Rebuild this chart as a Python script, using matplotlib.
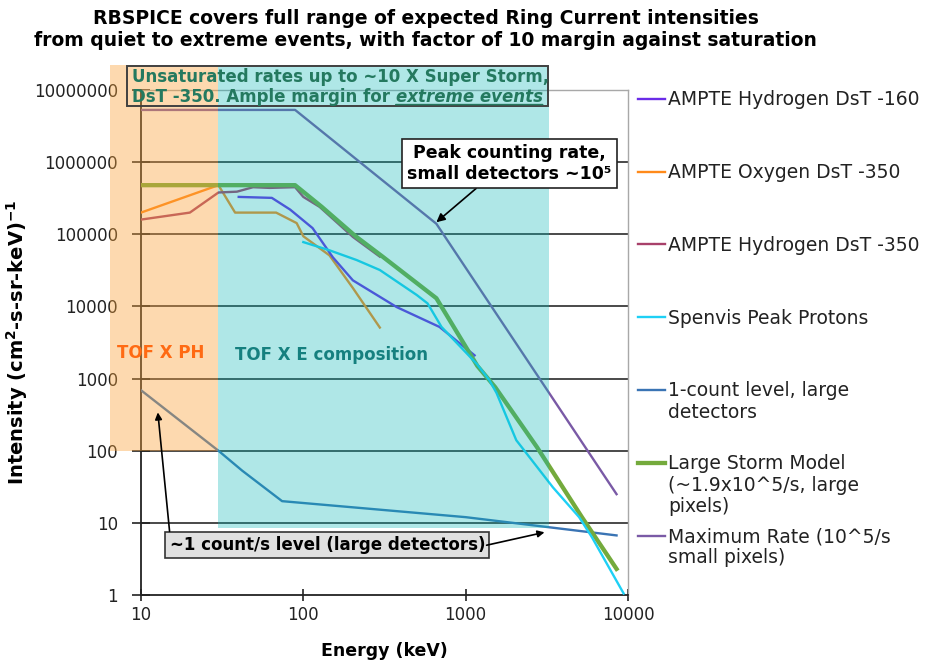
import matplotlib.pyplot as plt
import matplotlib.transforms as mtransforms
from matplotlib.patches import Rectangle

plt.rcParams['font.family'] = ['DejaVu Sans']

# energies (keV) and intensities
e_h160 = [40, 64, 83, 114, 152, 202, 376, 690, 1135]
f_h160 = [3.3e5, 3.2e5, 2.2e5, 1.22e5, 4.8e4, 2.3e4, 9.8e3, 5.2e3, 2.1e3]

e_o350 = [10, 30, 38, 68, 91, 100, 145, 202, 296]
f_o350 = [2.0e5, 4.8e5, 2.0e5, 2.0e5, 1.43e5, 9.4e4, 5.1e4, 1.8e4, 5.1e3]

e_h350 = [10, 20, 30, 39, 49, 62, 89, 100, 126, 202, 296]
f_h350 = [1.6e5, 2.0e5, 3.8e5, 3.9e5, 4.5e5, 4.4e5, 4.5e5, 3.3e5, 2.4e5, 9.2e4, 4.9e4]

e_spenvis = [100, 145, 213, 296, 500, 583, 710, 1170, 1400, 1550, 2050, 3450, 5000, 6000, 9400]
f_spenvis = [7.8e4, 6.0e4, 4.4e4, 3.2e4, 1.44e4, 1.1e4, 5.2e3, 1.6e3, 950, 630, 140, 31, 12, 6.3, 1.05]

e_count = [10, 30, 42, 74, 1000, 8500]
f_count = [690, 100, 53, 20, 12, 6.7]

e_storm = [10, 89, 130, 210, 308, 660, 1180, 1520, 2750, 5200, 8500]
f_storm = [4.8e5, 4.8e5, 2.4e5, 9.4e4, 4.9e4, 1.3e4, 1.5e3, 760, 112, 12, 2.3]

e_max = [10, 89, 660, 8500]
f_max = [5.3e6, 5.3e6, 1.4e5, 25]

names = ['AMPTE Hydrogen DsT -160', 'AMPTE Oxygen DsT -350', 'AMPTE Hydrogen DsT -350',
         'Spenvis Peak Protons', '1-count level, large\ndetectors',
         'Large Storm Model\n(~1.9x10^5/s, large\npixels)', 'Maximum Rate (10^5/s\nsmall pixels)']
energies = [e_h160, e_o350, e_h350, e_spenvis, e_count, e_storm, e_max]
fluxes = [f_h160, f_o350, f_h350, f_spenvis, f_count, f_storm, f_max]
colors = ['#6a2ce8', '#ff8a1a', '#a8406a', '#1ed0f5', '#3a74b4', '#74aa3c', '#7a5aa6']
widths = [1.7, 1.7, 1.7, 1.7, 1.7, 3.1, 1.7]

yticks = [1, 10, 100, 1000, 10000, 100000, 1000000, 10000000]
xticks = [10, 100, 1000, 10000]

fig = plt.figure(figsize=(9.33, 6.64), dpi=100)
rect = [0.1511, 0.1039, 0.522, 0.7605]
ax = fig.add_axes(rect)
ax.set_xscale('log')
ax.set_yscale('log')
ax.set_xlim(10, 10000)
ax.set_ylim(1, 1e7)

for y in yticks[1:-1]:
    ax.axhline(y, color='#2a2a2a', lw=1.2, zorder=1)

order = [4, 6, 1, 2, 0, 5, 3]
for i in order:
    ax.plot(energies[i], fluxes[i], color=colors[i], lw=widths[i], zorder=3)

ax.set_xticks(xticks)
ax.set_xticklabels([str(v) for v in xticks])
ax.set_yticks(yticks)
ax.set_yticklabels([str(v) for v in yticks])
ax.minorticks_off()
ax.tick_params(axis='x', direction='inout', length=9, width=1.2, labelsize=12, colors='#222222')
ax.tick_params(axis='y', direction='inout', length=13, width=1.2, labelsize=12, colors='#222222',
               pad=10)
for s in ['left', 'bottom']:
    ax.spines[s].set_color('#222222')
    ax.spines[s].set_linewidth(1.3)
for s in ['top', 'right']:
    ax.spines[s].set_color('#a8a8a8')
    ax.spines[s].set_linewidth(1.0)

ax.set_xlabel('Energy (keV)', fontsize=12.5, fontweight='bold')
ax.xaxis.set_label_coords(0.5, -0.093)
ax.set_ylabel(r'Intensity (cm$^\mathbf{2}$-s-sr-keV)$^\mathbf{-1}$', fontsize=14, fontweight='bold')
ax.yaxis.set_label_coords(-0.228, 0.5)

# translucent shaded bands on top of the lines
fig.add_artist(Rectangle((6.45, 100), 30 - 6.45, 2.2e7 - 100, transform=ax.transData,
                         facecolor='#faa239', alpha=0.4, edgecolor='none', zorder=5))
fig.add_artist(Rectangle((30, 8.4), 3240 - 30, 2.2e7 - 8.4, transform=ax.transData,
                         facecolor='#08b7b7', alpha=0.32, edgecolor='none', zorder=5))

# top layer for labels
ax2 = fig.add_axes(rect)
ax2.set_xscale('log')
ax2.set_yscale('log')
ax2.set_xlim(10, 10000)
ax2.set_ylim(1, 1e7)
ax2.set_axis_off()
ax2.set_zorder(10)

ax2.add_patch(Rectangle((8.2, 6.0e6), 3200 - 8.2, 2.15e7 - 6.0e6, facecolor='none',
                        edgecolor='#404040', lw=1.4, clip_on=False))
green = '#24795f'
ax2.text(8.8, 1.51e7, 'Unsaturated rates up to ~10 X Super Storm,', color=green,
         fontsize=12, fontweight='bold', va='center', ha='left')
t1 = ax2.text(8.8, 8.0e6, 'DsT -350. Ample margin for ', color=green,
              fontsize=12, fontweight='bold', va='center', ha='left')
t2 = ax2.annotate('extreme events', xy=(1, 0), xycoords=t1, va='bottom', ha='left',
                  color=green, fontsize=12, fontweight='bold', fontstyle='italic')
ax2.annotate('', xy=(0, 0.08), xycoords=t2, xytext=(1, 0.08), textcoords=t2,
             arrowprops=dict(arrowstyle='-', color=green, lw=1.1, shrinkA=0, shrinkB=0))

ax2.text(13.3, 2250, 'TOF X PH', color='#ff6a13', fontsize=12, fontweight='bold',
         ha='center', va='center')
ax2.text(150, 2110, 'TOF X E composition', color='#15807f', fontsize=12,
         fontweight='bold', ha='center', va='center')

ax2.annotate('Peak counting rate,\nsmall detectors ~10⁵', xy=(660, 1.47e5), xytext=(1866, 9.7e5),
             ha='center', va='center', fontsize=12.5, fontweight='bold',
             bbox=dict(boxstyle='square,pad=0.3', fc='white', ec='#222222', lw=1.2),
             arrowprops=dict(arrowstyle='-|>', color='black', lw=1.2, relpos=(0.37, 0),
                             shrinkA=0, shrinkB=0))

ax2.text(140.7, 4.9, '~1 count/s level (large detectors)', ha='center', va='center',
         fontsize=12, fontweight='bold',
         bbox=dict(boxstyle='square,pad=0.25', fc='#e0e0e0', ec='#333333', lw=1.2))
ax2.annotate('', xy=(12.7, 340), xytext=(15, 7.65),
             arrowprops=dict(arrowstyle='-|>', color='black', lw=1.2, shrinkA=0, shrinkB=0))
ax2.annotate('', xy=(3060, 7.4), xytext=(1346, 4.9),
             arrowprops=dict(arrowstyle='-|>', color='black', lw=1.2, shrinkA=0, shrinkB=0))

# legend, one entry per decade row
blend = mtransforms.blended_transform_factory(ax2.transAxes, ax2.transData)
for i in range(len(names)):
    ytop = 10 ** (7 - 1.01 * i)
    yline = 10 ** (7 - 1.01 * i - 0.12)
    ax2.plot([1.02, 1.076], [yline, yline], color=colors[i], lw=widths[i] if i == 5 else 1.7,
             transform=blend, clip_on=False)
    ax2.text(1.082, ytop, names[i], transform=blend, fontsize=13.5, va='top', ha='left',
             color='#222222', linespacing=1.15)

fig.suptitle('RBSPICE covers full range of expected Ring Current intensities\n'
             'from quiet to extreme events, with factor of 10 margin against saturation',
             fontsize=13.5, fontweight='bold', x=0.456, y=0.987)

fig.savefig('out.png', dpi=100)
